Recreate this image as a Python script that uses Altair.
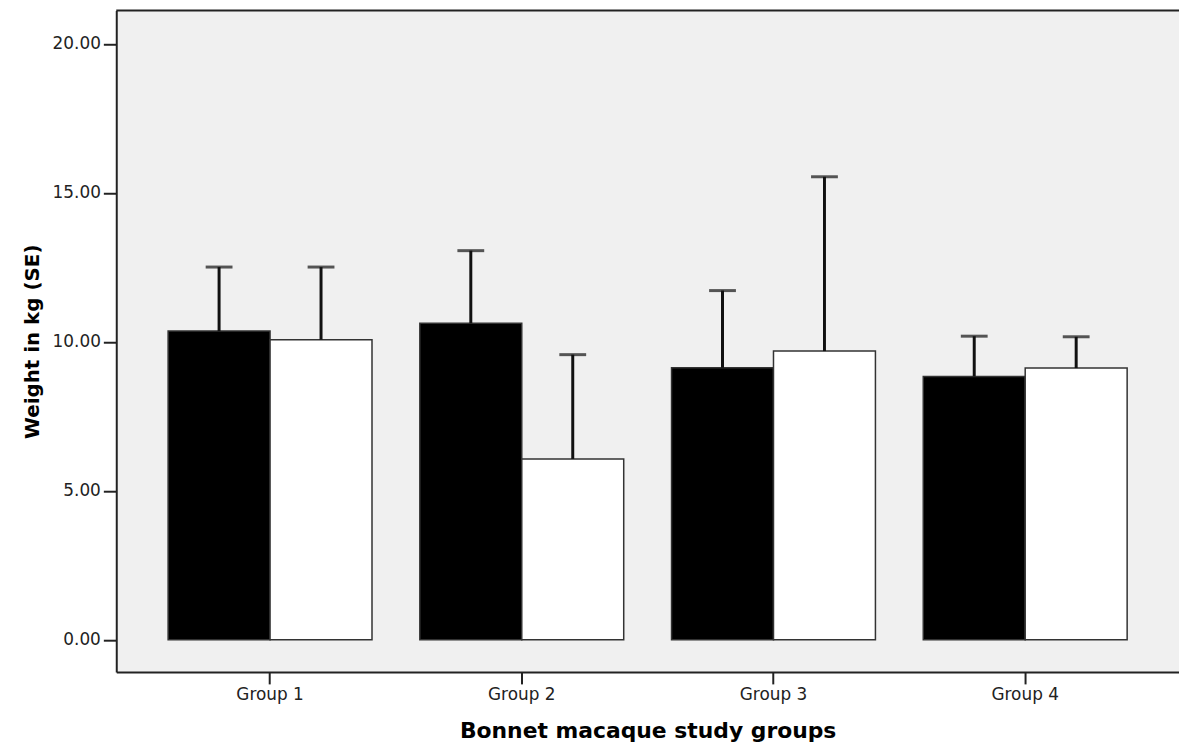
import altair as alt
import pandas as pd

groups = ["Group 1", "Group 2", "Group 3", "Group 4"]
series = ["Series A", "Series B"]
black_means = [10.36, 10.62, 9.13, 8.84]
black_upper = [12.51, 13.06, 11.72, 10.19]
white_means = [10.07, 6.07, 9.69, 9.12]
white_upper = [12.51, 9.57, 15.54, 10.17]
y_ticks = [0, 5, 10, 15, 20]
y_domain = [-1.08, 21.12]

rows = []
for i, g in enumerate(groups):
    rows.append({"group": g, "series": series[0], "mean": black_means[i], "upper": black_upper[i]})
    rows.append({"group": g, "series": series[1], "mean": white_means[i], "upper": white_upper[i]})
df = pd.DataFrame(rows)

FONT = "DejaVu Sans"

x_scale = alt.Scale(domain=groups, paddingInner=0.19, paddingOuter=0.206)
y_scale = alt.Scale(domain=y_domain, nice=False, zero=False)

bars = alt.Chart(df).mark_bar(stroke="#333333", strokeWidth=1.5).encode(
    x=alt.X("group:N", scale=x_scale, sort=groups,
            axis=alt.Axis(title="Bonnet macaque study groups", labelAngle=0,
                          labelFontSize=17, labelFont=FONT, labelColor="#222222",
                          titleFont=FONT, titleFontSize=22, titleFontWeight="bold",
                          titleColor="#000000", titlePadding=18,
                          tickSize=12, tickColor="#222222", tickWidth=2,
                          domainColor="#222222", domainWidth=2, labelPadding=3,
                          orient="bottom")),
    xOffset=alt.XOffset("series:N", sort=series),
    y=alt.Y("mean:Q", scale=y_scale,
            axis=alt.Axis(title="Weight in kg (SE)", values=y_ticks, format=".2f",
                          labelFontSize=17, labelFont=FONT, labelColor="#222222",
                          titleFont=FONT, titleFontSize=20, titleFontWeight="bold",
                          titleColor="#000000", titlePadding=10,
                          tickSize=13, tickColor="#222222", tickWidth=2,
                          domainColor="#222222", domainWidth=2, labelPadding=3,
                          grid=False)),
    fill=alt.Fill("series:N", scale=alt.Scale(domain=series, range=["#000000", "#ffffff"]),
                  legend=None),
)

rules = alt.Chart(df).mark_rule(color="#111111", strokeWidth=3).encode(
    x=alt.X("group:N", scale=x_scale, sort=groups),
    xOffset=alt.XOffset("series:N", sort=series),
    y=alt.Y("mean:Q", scale=y_scale),
    y2="upper:Q",
)

caps = alt.Chart(df).mark_tick(color="#111111", thickness=3, size=27).encode(
    x=alt.X("group:N", scale=x_scale, sort=groups),
    xOffset=alt.XOffset("series:N", sort=series),
    y=alt.Y("upper:Q", scale=y_scale),
)

top_border = alt.Chart(pd.DataFrame({"top": [y_domain[1]]})).mark_rule(
    color="#222222", strokeWidth=2
).encode(y=alt.Y("top:Q", scale=y_scale))

chart = alt.layer(bars, rules, caps, top_border).properties(
    width=1070, height=666,
    autosize=alt.AutoSizeParams(type="none"),
    padding={"left": 109, "top": 0, "right": 0, "bottom": 72},
    background="#ffffff",
).configure_view(stroke=None, fill="#F0F0F0")

chart.save("out.html", embed_options={"renderer": "svg", "actions": False})
